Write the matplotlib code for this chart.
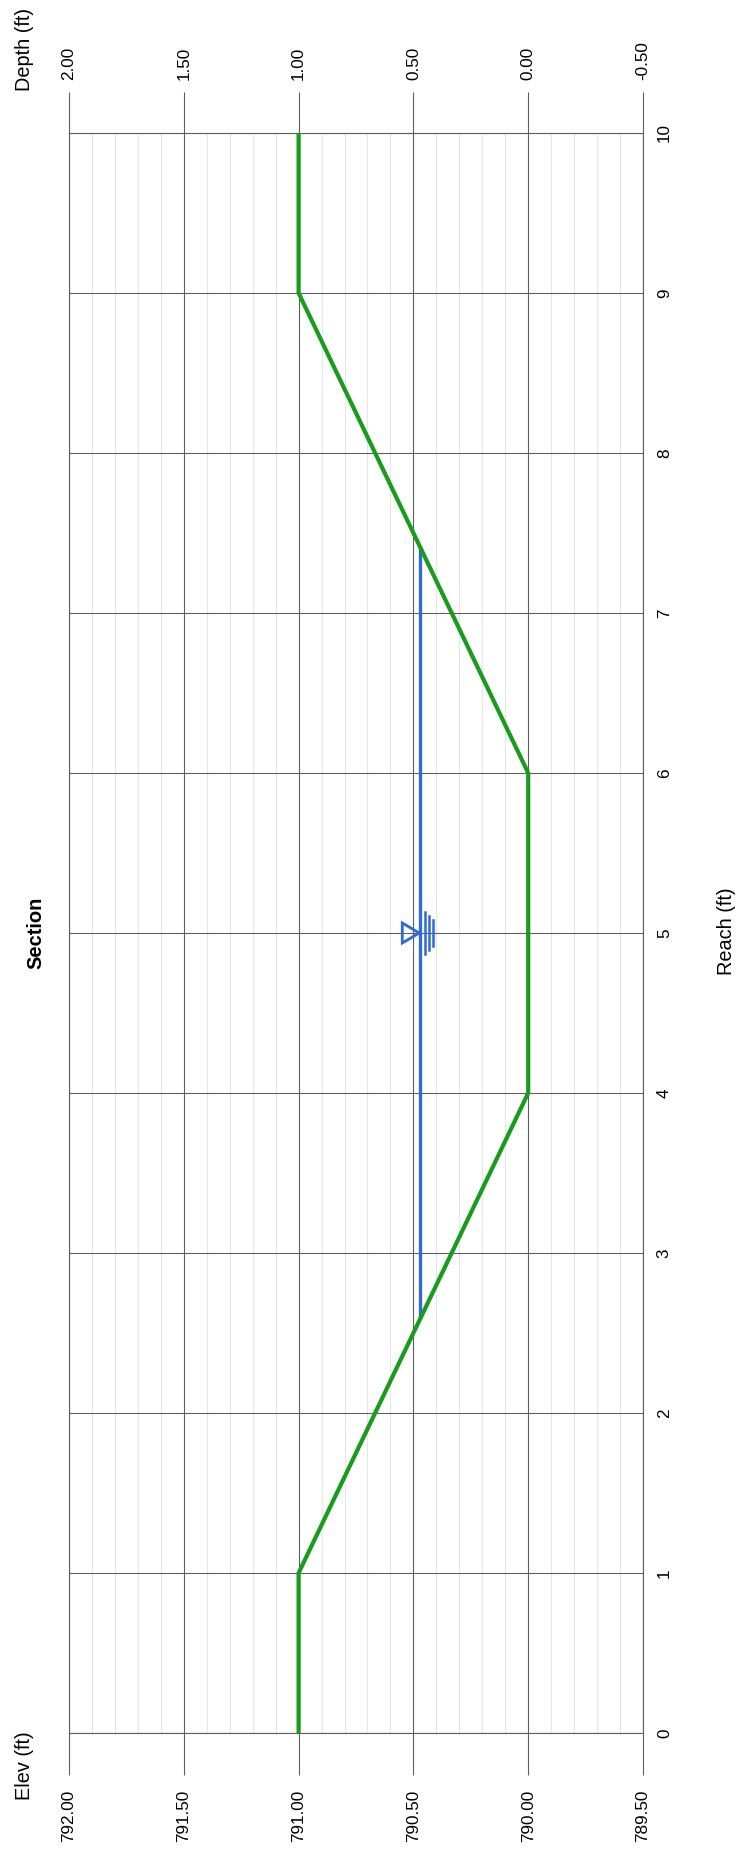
import numpy as np
import matplotlib
matplotlib.use("Agg")
import matplotlib.pyplot as plt
from matplotlib.lines import Line2D
from matplotlib.patches import Polygon
from matplotlib.ticker import MultipleLocator, FixedLocator

plt.rcParams['font.family'] = ['Liberation Sans', 'DejaVu Sans']

# ---- data ----
reach = [0, 1, 4, 6, 9, 10]
ground_elev = [791.0, 791.0, 790.0, 790.0, 791.0, 791.0]
water_elev = 790.47
water_reach = [2.59, 7.41]
symbol_reach = 5.0

elev_ticks = [792.00, 791.50, 791.00, 790.50, 790.00, 789.50]
elev_labels = ["792.00", "791.50", "791.00", "790.50", "790.00", "789.50"]
depth_ticks = [2.00, 1.50, 1.00, 0.50, 0.00, -0.50]
depth_labels = ["2.00", "1.50", "1.00", "0.50", "0.00", "-0.50"]
reach_ticks = list(range(0, 11))
reach_labels = [str(v) for v in reach_ticks]

title = "Section"
elev_title = "Elev (ft)"
depth_title = "Depth (ft)"
reach_title = "Reach (ft)"

# ---- figure ----
W, H = 746, 1852
DPI = 100
fig = plt.figure(figsize=(W / DPI, H / DPI), dpi=DPI)
fig.patch.set_facecolor("white")

L, R, T, B = 69, 643, 133, 1733
ax = fig.add_axes([L / W, (H - B) / H, (R - L) / W, (B - T) / H])

major_c = "#5e5e5e"
minor_c = "#e6e6e6"
green = "#179c1b"
blue = "#2f6bd3"

ax.set_xlim(elev_ticks[0], elev_ticks[-1])
ax.set_ylim(0, 10)

ax.xaxis.set_major_locator(FixedLocator(elev_ticks))
ax.set_xticklabels(elev_labels)
ax.xaxis.set_minor_locator(MultipleLocator(0.1))
ax.yaxis.set_major_locator(FixedLocator(reach_ticks))
ax.set_yticklabels(reach_labels)
ax.yaxis.tick_right()

ax.set_axisbelow(True)
ax.grid(which="major", axis="both", color=major_c, linewidth=0.8)
ax.grid(which="minor", axis="x", color=minor_c, linewidth=0.8)

ax.tick_params(axis="x", which="major", direction="out", length=30.2, width=0.8,
               color=major_c, pad=10.5, labelsize=12.3, labelrotation=90)
ax.tick_params(axis="x", which="minor", length=0)
ax.tick_params(axis="y", which="major", length=0, pad=10, labelsize=12.3,
               labelrotation=90)
for lab in ax.get_yticklabels():
    lab.set_verticalalignment("center")

for sp in ax.spines.values():
    sp.set_color(major_c)
    sp.set_linewidth(0.8)

# top depth axis
ax2 = ax.twiny()
ax2.set_xlim(depth_ticks[0], depth_ticks[-1])
ax2.xaxis.set_major_locator(FixedLocator(depth_ticks))
ax2.set_xticklabels(depth_labels)
ax2.tick_params(axis="x", which="major", direction="out", length=29.5, width=0.8,
                color=major_c, pad=8.5, labelsize=12.3, labelrotation=90)
for sp in ax2.spines.values():
    sp.set_visible(False)

# ---- marks ----
ax.plot([water_elev, water_elev], water_reach, color=blue, linewidth=2.4,
        solid_capstyle="butt", zorder=3)
ax.plot(ground_elev, reach, color=green, linewidth=3.0, zorder=4,
        solid_joinstyle="miter")

# water surface symbol (in display pixels around the data point)
fig.canvas.draw()
px, py = ax.transData.transform((water_elev, symbol_reach))
tri = Polygon([[px - 1, py], [px - 18, py + 10], [px - 18, py - 10]],
              closed=True, fill=False, edgecolor=blue, linewidth=2.0,
              transform=None, zorder=5)
fig.artists.append(tri)
for dx, half in [(5, 21), (9, 17), (13, 13)]:
    fig.lines.append(Line2D([px + dx, px + dx], [py - half, py + half],
                            color=blue, linewidth=1.8, transform=None, zorder=5))

# ---- texts (rotated like the reference) ----
fig.text(36 / W, 1 - 933 / H, title, rotation=90, ha="center", va="center",
         fontsize=14.5, fontweight="bold")
fig.text(24 / W, 1 - 1766 / H, elev_title, rotation=90, ha="center", va="center",
         fontsize=14.3)
fig.text(25 / W, 1 - 49 / H, depth_title, rotation=90, ha="center", va="center",
         fontsize=14.3)
fig.text(727 / W, 1 - 931 / H, reach_title, rotation=90, ha="center", va="center",
         fontsize=14.3)

fig.savefig("out.png", dpi=DPI, facecolor="white")
